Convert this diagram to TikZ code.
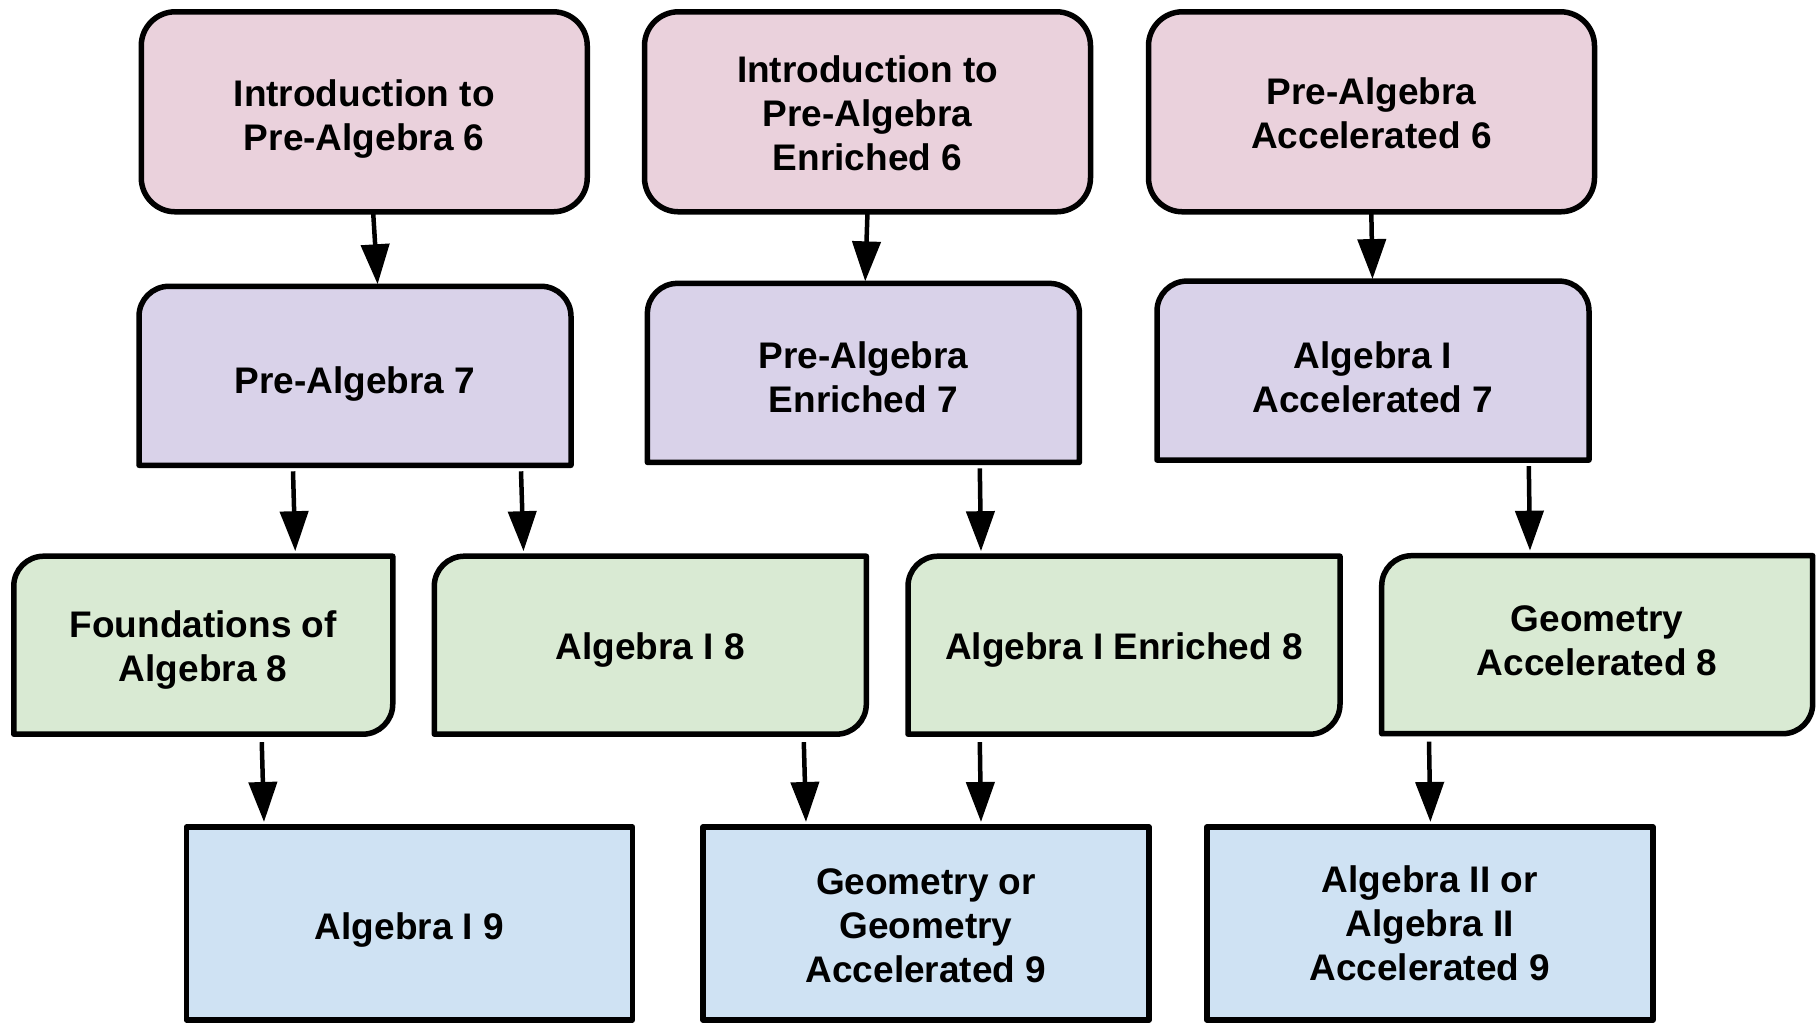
\documentclass[tikz,border=0pt]{standalone}
\usepackage{fontspec}
\setmainfont{Liberation Sans}
\usetikzlibrary{arrows.meta,backgrounds,calc}
\definecolor{pinkfill}{HTML}{EAD1DC}
\definecolor{purplefill}{HTML}{D9D2E9}
\definecolor{greenfill}{HTML}{D9EAD3}
\definecolor{bluefill}{HTML}{CFE2F3}
\newlength{\rr}
\setlength{\rr}{30pt}
\tikzset{
  frame/.style={inner sep=0pt, outer sep=0pt},
  lbl/.style={inner sep=0pt, outer sep=0pt, align=center,
    font=\fontsize{37}{44}\selectfont\bfseries},
  pinkbox/.style={frame, minimum width=446pt, minimum height=200pt},
  purplebox/.style={frame, minimum width=432pt, minimum height=179pt},
  greenbox/.style={frame, minimum width=432pt, minimum height=178pt},
  bluebox/.style={frame, minimum width=446pt, minimum height=193pt},
  boxline/.style={draw=black, line width=5.5pt, line join=round},
  conn/.style={line width=4.5pt, -{Triangle[width=28pt,length=40pt]}},
}
\newcommand{\drawpink}[1]{\draw[boxline,fill=pinkfill,rounded corners=34pt] (#1.south west) rectangle (#1.north east);}
\newcommand{\drawtopround}[1]{\draw[boxline,fill=purplefill] (#1.south west) -- ([yshift=-\rr]#1.north west) arc[start angle=180,end angle=90,radius=\rr] -- ([xshift=-\rr]#1.north east) arc[start angle=90,end angle=0,radius=\rr] -- (#1.south east) -- cycle;}
\newcommand{\drawdiag}[1]{\draw[boxline,fill=greenfill] (#1.north east) -- ([yshift=\rr]#1.south east) arc[start angle=0,end angle=-90,radius=\rr] -- (#1.south west) -- ([yshift=-\rr]#1.north west) arc[start angle=180,end angle=90,radius=\rr] -- cycle;}
\newcommand{\drawsquare}[1]{\draw[boxline,fill=bluefill] (#1.south west) rectangle (#1.north east);}
\begin{document}
\begin{tikzpicture}
\useasboundingbox (0,0) rectangle (1816pt,1023pt);
% boxes
\node[pinkbox] (A) at (364.25pt,911.2pt) {};
\node[pinkbox] (B) at (867.5pt,911.2pt) {};
\node[pinkbox] (C) at (1371.5pt,911.2pt) {};
\node[purplebox] (D) at (355pt,647.2pt) {};
\node[purplebox] (E) at (863.4pt,650.1pt) {};
\node[purplebox] (F) at (1373pt,652.4pt) {};
\node[greenbox, minimum width=379pt] (G) at (203.25pt,377.8pt) {};
\node[greenbox] (H) at (650.3pt,377.8pt) {};
\node[greenbox] (I) at (1124pt,377.8pt) {};
\node[greenbox, minimum width=431pt] (J) at (1597.2pt,378.3pt) {};
\node[bluebox] (K) at (409.5pt,99.5pt) {};
\node[bluebox] (L) at (926pt,99.5pt) {};
\node[bluebox] (M) at (1429.8pt,99.5pt) {};
% texts
\node[lbl] (At) at ([yshift=-7pt]A.center) {Introduction to\\Pre-Algebra 6};
\node[lbl] (Bt) at ([yshift=-1pt]B.center) {Introduction to\\Pre-Algebra\\Enriched 6};
\node[lbl] (Ct) at ([yshift=-1pt]C.center) {Pre-Algebra\\Accelerated 6};
\node[lbl] (Dt) at ([yshift=-8pt]D.center) {Pre-Algebra 7};
\node[lbl] (Et) at ([yshift=-4.6pt]E.center) {Pre-Algebra\\Enriched 7};
\node[lbl] (Ft) at ([yshift=-7pt]F.center) {Algebra I\\Accelerated 7};
\node[lbl] (Gt) at ([yshift=-4.6pt]G.center) {Foundations of\\Algebra 8};
\node[lbl] (Ht) at ([yshift=-4.6pt]H.center) {Algebra I 8};
\node[lbl] (It) at ([yshift=-4.6pt]I.center) {Algebra I Enriched 8};
\node[lbl] (Jt) at ([yshift=3.5pt]J.center) {Geometry\\Accelerated 8};
\node[lbl] (Kt) at ([yshift=-7pt]K.center) {Algebra I 9};
\node[lbl] (Lt) at ([yshift=-2.3pt]L.center) {Geometry or\\Geometry\\Accelerated 9};
\node[lbl] (Mt) at (M.center) {Algebra II or\\Algebra II\\Accelerated 9};
\begin{pgfonlayer}{background}
\fill[white] (0,0) rectangle (1816pt,1023pt);
\drawpink{A}\drawpink{B}\drawpink{C}
\drawtopround{D}\drawtopround{E}\drawtopround{F}
\drawdiag{G}\drawdiag{H}\drawdiag{I}\drawdiag{J}
\drawsquare{K}\drawsquare{L}\drawsquare{M}
\end{pgfonlayer}
% connectors
\draw[conn] ([shift={(8.75pt,2pt)}]A.south) -- ([shift={(22.6pt,2pt)}]D.north);
\draw[conn] ([shift={(0pt,0pt)}]B.south) -- ([shift={(1.8pt,2pt)}]E.north);
\draw[conn] ([shift={(-0.2pt,0pt)}]C.south) -- ([shift={(-0.5pt,2pt)}]F.north);
\draw[conn] ([shift={(-62pt,-6pt)}]D.south) -- ([shift={(92pt,5pt)}]G.north);
\draw[conn] ([shift={(166pt,-6pt)}]D.south) -- ([shift={(-126.8pt,5pt)}]H.north);
\draw[conn] ([shift={(116.4pt,-6pt)}]E.south) -- ([shift={(-143pt,5pt)}]I.north);
\draw[conn] ([shift={(155.8pt,-6pt)}]F.south) -- ([shift={(-67.2pt,5pt)}]J.north);
\draw[conn] ([shift={(58.5pt,-8pt)}]G.south) -- ([shift={(-145.5pt,5pt)}]K.north);
\draw[conn] ([shift={(153.5pt,-8pt)}]H.south) -- ([shift={(-120pt,5pt)}]L.north);
\draw[conn] ([shift={(-144.2pt,-8pt)}]I.south) -- ([shift={(55pt,5pt)}]L.north);
\draw[conn] ([shift={(-168.2pt,-8pt)}]J.south) -- ([shift={(0.6pt,5pt)}]M.north);
\end{tikzpicture}
\end{document}
